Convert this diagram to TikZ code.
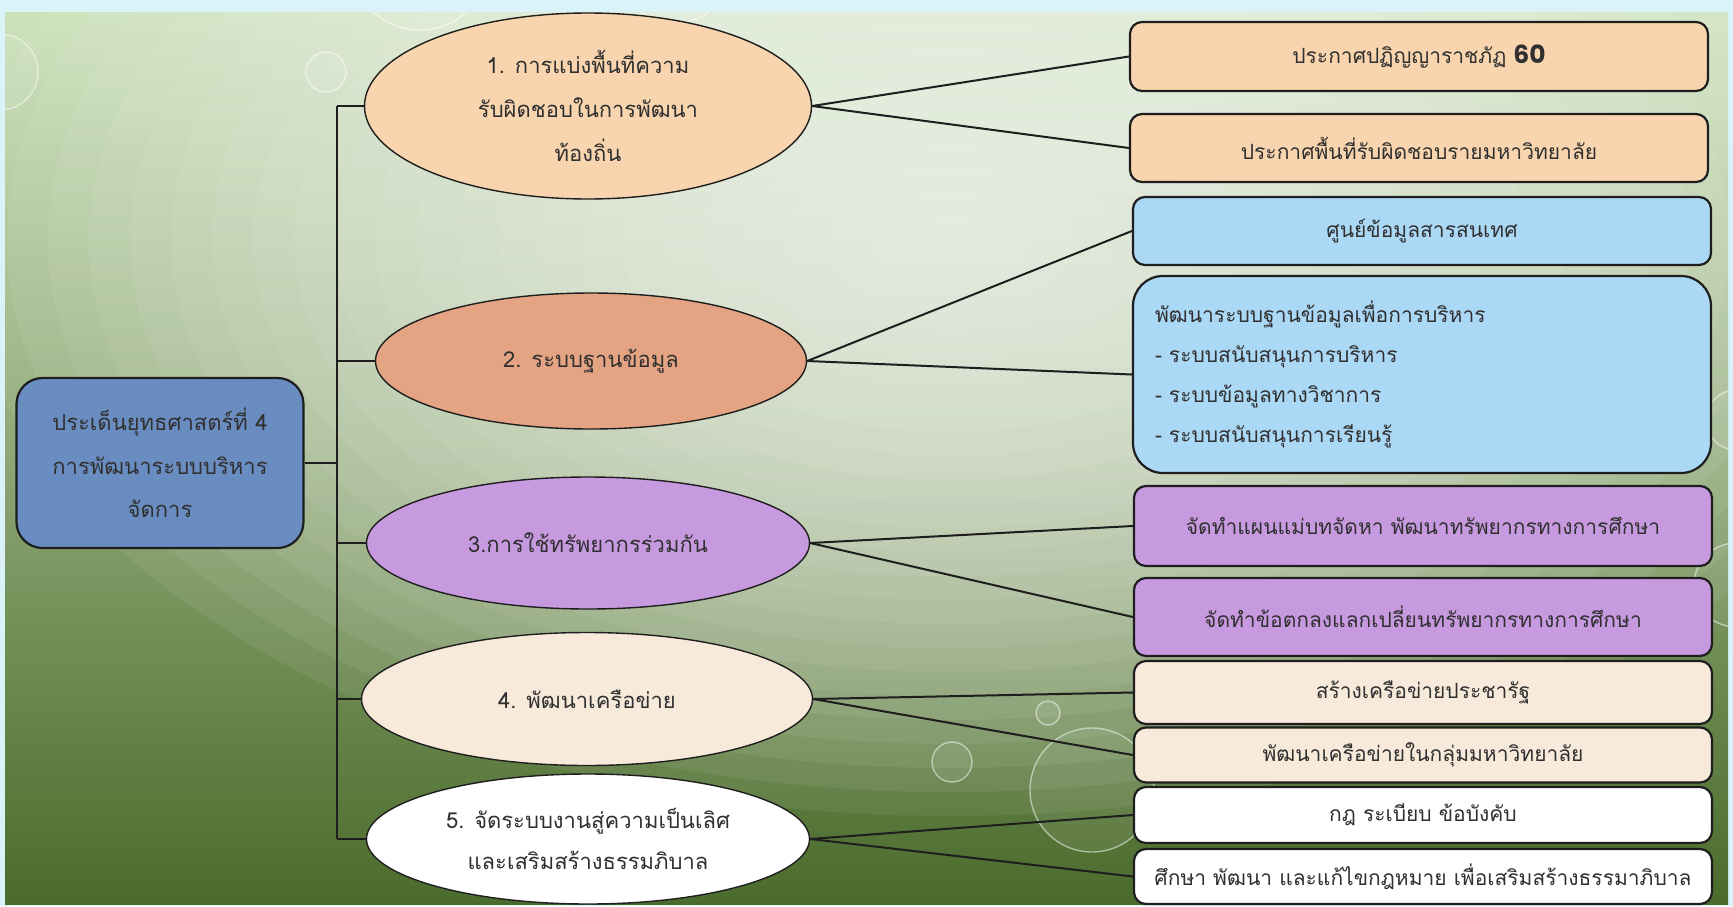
\documentclass[tikz,border=0pt]{standalone}
\usepackage{fontspec}
\newfontfamily\thai[Script=Thai]{Loma}
\newfontfamily\numfont{Poppins}
\usetikzlibrary{shapes.geometric}
\definecolor{frame}{HTML}{D9F3F9}
\definecolor{bgtop}{HTML}{CDE2BC}
\definecolor{bgmid}{HTML}{98B282}
\definecolor{bgbot}{HTML}{4B6B2C}
\definecolor{peach}{HTML}{F8D5AE}
\definecolor{salmon}{HTML}{E4A483}
\definecolor{lilac}{HTML}{C79AE0}
\definecolor{cream}{HTML}{F7EADB}
\definecolor{skyb}{HTML}{ABD8F5}
\definecolor{rootb}{HTML}{6A8DC1}
\definecolor{ink}{HTML}{303030}
\definecolor{edge}{HTML}{1E1E1E}
\definecolor{glow}{HTML}{F8FAF5}
\begin{document}
\begin{tikzpicture}[x=1pt,y=-1pt,
  ell/.style={ellipse, draw=edge, line width=1.4pt, inner sep=0pt, align=center,
    text=ink, font={\thai\fontsize{22}{44}\selectfont}},
  rbox/.style={rectangle, rounded corners=12pt, draw=edge, line width=2.2pt,
    minimum width=578pt, inner sep=0pt, align=center, text=ink,
    font={\thai\fontsize{21}{40}\selectfont}},
  link/.style={draw=edge, line width=2pt},
  bubble/.style={draw=white, draw opacity=0.5, line width=1.4pt, fill=white, fill opacity=0.08}]
\useasboundingbox (0,0) rectangle (1733,906);
\fill[frame] (0,0) rectangle (1733,906);
\shade[top color=bgtop, middle color=bgmid, bottom color=bgbot] (5,12) rectangle (1728,904);
\begin{scope}
\clip (5,12) rectangle (1728,904);
\foreach \i in {1,...,24} {
  \fill[glow, opacity=0.065] (950,240) ellipse [x radius={\i*41pt}, y radius={\i*24pt}];
}
% bubbles
\draw[bubble] (0,72) circle (38);
\draw[bubble] (420,-40) circle (70);
\draw[bubble] (675,-35) circle (58);
\draw[bubble] (326,72) circle (20);
\draw[bubble] (1048,713) circle (12);
\draw[bubble] (952,762) circle (20);
\draw[bubble] (1092,790) circle (62);
\draw[bubble] (1736,420) circle (30);
\draw[bubble] (1736,585) circle (42);
\end{scope}

% root
\node[rectangle, rounded corners=26pt, draw=edge, line width=2.2pt, fill=rootb,
  minimum width=287pt, minimum height=170pt, align=center, text=ink,
  font={\thai\fontsize{22}{43.5}\selectfont}] (root) at (160,463)
  {ประเด็นยุทธศาสตร์ที่ 4\\การพัฒนาระบบบริหาร\\จัดการ};

% ellipses
\node[ell, fill=peach, minimum width=447pt, minimum height=186pt] (e1) at (588,106)
  {1. การแบ่งพื้นที่ความ\\รับผิดชอบในการพัฒนา\\ท้องถิ่น};
\node[ell, fill=salmon, minimum width=431pt, minimum height=136pt] (e2) at (591,361)
  {2. ระบบฐานข้อมูล};
\node[ell, fill=lilac, minimum width=443pt, minimum height=132pt] (e3) at (588,543)
  {3.การใช้ทรัพยากรร่วมกัน};
\node[ell, fill=cream, minimum width=451pt, minimum height=133pt] (e4) at (587,699)
  {4. พัฒนาเครือข่าย};
\node[ell, fill=white, minimum width=443pt, minimum height=130pt,
  font={\thai\fontsize{22}{41}\selectfont}] (e5) at (588,839)
  {5. จัดระบบงานสู่ความเป็นเลิศ\\และเสริมสร้างธรรมภิบาล};

% right boxes
\node[rbox, fill=peach, minimum height=69pt] (b1) at (1419,56.5)
  {ประกาศปฏิญญาราชภัฏ {\numfont\bfseries\fontsize{25}{30}\selectfont 60}};
\node[rbox, fill=peach, minimum height=68pt] (b2) at (1419,148)
  {ประกาศพื้นที่รับผิดชอบรายมหาวิทยาลัย};
\node[rbox, fill=skyb, minimum height=68pt] (b3) at (1422,231)
  {ศูนย์ข้อมูลสารสนเทศ};
\node[rbox, fill=skyb, minimum height=197pt, rounded corners=30pt, align=left,
  text width=534pt] (b4) at (1422,374.5)
  {พัฒนาระบบฐานข้อมูลเพื่อการบริหาร\\- ระบบสนับสนุนการบริหาร\\- ระบบข้อมูลทางวิชาการ\\- ระบบสนับสนุนการเรียนรู้};
\node[rbox, fill=lilac, minimum height=80pt] (b5) at (1423,526)
  {จัดทำแผนแม่บทจัดหา พัฒนาทรัพยากรทางการศึกษา};
\node[rbox, fill=lilac, minimum height=78pt] (b6) at (1423,617)
  {จัดทำข้อตกลงแลกเปลี่ยนทรัพยากรทางการศึกษา};
\node[rbox, fill=cream, minimum height=63pt] (b7) at (1423,692.5)
  {สร้างเครือข่ายประชารัฐ};
\node[rbox, fill=cream, minimum height=55pt] (b8) at (1423,755)
  {พัฒนาเครือข่ายในกลุ่มมหาวิทยาลัย};
\node[rbox, fill=white, minimum height=56pt] (b9) at (1423,815)
  {กฎ ระเบียบ ข้อบังคับ};
\node[rbox, fill=white, minimum height=55pt] (b10) at (1423,876.5)
  {ศึกษา พัฒนา และแก้ไขกฎหมาย เพื่อเสริมสร้างธรรมาภิบาล};

% trunk
\coordinate (tx) at (337,0);
\draw[link] (root.east) -- (root.east -| tx);
\draw[link] (e1.west -| tx) -- (e5.west -| tx);
\foreach \e in {e1,e2,e3,e4,e5} { \draw[link] (\e.west -| tx) -- (\e.west); }

% branches
\draw[link] (e1.east) -- (b1.west);
\draw[link] (e1.east) -- (b2.west);
\draw[link] (e2.east) -- (b3.west);
\draw[link] (e2.east) -- (b4.west);
\draw[link] (e3.east) -- (b5.west);
\draw[link] (e3.east) -- (b6.west);
\draw[link] (e4.east) -- (b7.west);
\draw[link] (e4.east) -- (b8.west);
\draw[link] (e5.east) -- (b9.west);
\draw[link] (e5.east) -- (b10.west);
\end{tikzpicture}
\end{document}
